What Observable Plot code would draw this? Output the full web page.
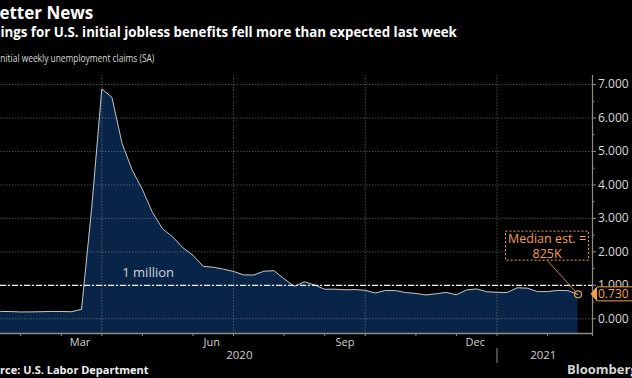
<!DOCTYPE html>
<html><head><meta charset="utf-8">
<script src="https://cdn.jsdelivr.net/npm/d3@7"></script>
<script src="https://cdn.jsdelivr.net/npm/@observablehq/plot@0.6"></script>
<style>
html,body{margin:0;padding:0;background:#000;}
#wrap{position:relative;width:632px;height:378px;overflow:hidden;background:#000;font-family:"Open Sans",sans-serif;}
.txt{position:absolute;white-space:nowrap;line-height:1;}
#title{left:-12px;top:4px;font-size:17px;font-weight:700;color:#fff;}
#subtitle{left:-15px;top:26px;font-size:13.3px;font-weight:700;color:#fff;}
#unit{left:-2px;top:51.5px;font-size:11.2px;color:#d9d9d9;transform:scaleX(0.75);transform-origin:0 0;}
#source{left:-20px;top:364px;font-size:11px;font-weight:700;color:#f0f0f0;}
#brand{left:567px;top:362.5px;font-size:13px;font-weight:700;color:#d4d4d4;}
#chart{position:absolute;left:0;top:70px;}
#chart svg{overflow:visible;}
</style></head><body>
<div id="wrap">
  <div id="title" class="txt">Better News</div>
  <div id="subtitle" class="txt">Filings for U.S. initial jobless benefits fell more than expected last week</div>
  <div id="unit" class="txt">Initial weekly unemployment claims (SA)</div>
  <div id="chart"></div>
  <div id="source" class="txt">Source: U.S. Labor Department</div>
  <div id="brand" class="txt">Bloomberg</div>
</div>
<script>
// Week-ending dates and initial claims (millions, SA)
const weekEnding = [
  "2020-01-04","2020-01-11","2020-01-18","2020-01-25","2020-02-01","2020-02-08","2020-02-15","2020-02-22","2020-02-29",
  "2020-03-07","2020-03-14","2020-03-21","2020-03-28","2020-04-04","2020-04-11","2020-04-18","2020-04-25",
  "2020-05-02","2020-05-09","2020-05-16","2020-05-23","2020-05-30","2020-06-06","2020-06-13","2020-06-20","2020-06-27",
  "2020-07-04","2020-07-11","2020-07-18","2020-07-25","2020-08-01","2020-08-08","2020-08-15","2020-08-22","2020-08-29",
  "2020-09-05","2020-09-12","2020-09-19","2020-09-26","2020-10-03","2020-10-10","2020-10-17","2020-10-24","2020-10-31",
  "2020-11-07","2020-11-14","2020-11-21","2020-11-28","2020-12-05","2020-12-12","2020-12-19","2020-12-26",
  "2021-01-02","2021-01-09","2021-01-16","2021-01-23","2021-01-30","2021-02-06","2021-02-13","2021-02-20"
];
const claims = [
  0.214,0.207,0.220,0.216,0.203,0.205,0.211,0.219,0.217,
  0.211,0.282,3.307,6.867,6.615,5.237,4.442,3.867,
  3.176,2.687,2.446,2.123,1.897,1.566,1.540,1.482,1.413,
  1.310,1.307,1.422,1.435,1.191,0.971,1.104,1.011,0.881,
  0.884,0.866,0.873,0.849,0.770,0.845,0.840,0.782,0.757,
  0.711,0.748,0.787,0.716,0.862,0.892,0.806,0.790,
  0.784,0.926,0.914,0.812,0.812,0.848,0.841,0.730
];
const yTicks = [0,1,2,3,4,5,6,7];
const yMinorTicks = [0.5,1.5,2.5,3.5,4.5,5.5,6.5];
const monthTicks = ["2020-02-01","2020-02-29","2020-03-28","2020-04-25","2020-05-30","2020-06-27","2020-08-01",
  "2020-08-29","2020-09-26","2020-10-31","2020-11-28","2020-12-26","2021-01-30"];
const quarterLines = ["2020-03-28","2020-06-27","2020-09-26","2020-12-26"];
const monthLabelDates = ["2020-03-13","2020-06-12","2020-09-12","2020-12-11"];
const monthLabelText = ["Mar","Jun","Sep","Dec"];
const yearLabelDates = ["2020-07-01","2021-01-27"];
const yearLabelText = ["2020","2021"];
const yearBreak = "2020-12-26";
const thresholdValue = 1;
const thresholdLabel = "1 million";
const thresholdLabelDate = "2020-04-29";
const medianEstimateK = 825;

const data = weekEnding.map((d, i) => ({date: new Date(d), value: claims[i]}));
const last = data[data.length - 1];
const monthLabels = monthLabelDates.map((d, i) => ({date: new Date(d), label: monthLabelText[i]}));
const yearLabels = yearLabelDates.map((d, i) => ({date: new Date(d), label: yearLabelText[i]}));
const threshold = [{date: new Date(thresholdLabelDate), value: thresholdValue, label: thresholdLabel}];
const noteLabel = `Median est. =\n${medianEstimateK}K`;
const estimate = [{date: last.date, value: last.value, label: noteLabel}];
const tagLabel = last.value.toFixed(3);

const xDomain = [new Date("2020-01-18"), new Date("2021-03-02")];
const yDomain = [-0.44, 7.27];
const xEnd = xDomain[1], yMin = yDomain[0];
const orange = "#f2a04a";
const axisColor = "#8c8c8c";
const navy = "#082548";
const grid = {stroke: "#a0a0a0", strokeOpacity: 0.45, strokeDasharray: "1.5,1.5"};

const chart = Plot.plot({
  width: 632, height: 295,
  marginLeft: 0, marginRight: 40, marginTop: 5, marginBottom: 32,
  x: {type: "utc", domain: xDomain, axis: null},
  y: {domain: yDomain, axis: null},
  style: {background: "transparent", fontFamily: "Open Sans", overflow: "visible"},
  marks: [
    Plot.areaY(data, {x: "date", y1: () => yMin, y2: "value", fill: navy, clip: true}),
    Plot.ruleY(yTicks, grid),
    Plot.ruleX(quarterLines.map(d => new Date(d)), grid),
    Plot.lineY(data, {x: "date", y: "value", stroke: "#c4c4c4", strokeWidth: 1, clip: true}),
    Plot.ruleY([thresholdValue], {stroke: "#f0f0f0", strokeWidth: 1.3, strokeDasharray: "6,2,2,2"}),
    Plot.text(threshold, {x: "date", y: "value", text: "label", dy: -12, fill: "#cdd5df", fontSize: 13}),
    Plot.ruleY([yMin], {stroke: axisColor, strokeWidth: 1.5}),
    Plot.ruleX([xEnd], {stroke: axisColor, strokeWidth: 1.2, insetBottom: -3}),
    Plot.ruleX(monthTicks.map(d => new Date(d)), {x: d => d, y1: () => yMin, y2: () => yMin, insetBottom: -3, stroke: axisColor}),
    Plot.ruleX([new Date(yearBreak)], {x: d => d, y1: () => yMin, y2: () => yMin, insetTop: 15, insetBottom: -30, stroke: axisColor}),
    Plot.ruleY(yTicks, {y: d => d, x1: () => xEnd, x2: () => xEnd, insetRight: -4, stroke: axisColor}),
    Plot.ruleY(yMinorTicks, {y: d => d, x1: () => xEnd, x2: () => xEnd, insetRight: -2.5, stroke: axisColor}),
    Plot.text(yTicks, {x: () => xEnd, y: d => d, text: d => d.toFixed(3), textAnchor: "start", dx: 5.5, fill: "#d8d8d8", fontSize: 12}),
    Plot.text(monthLabels, {x: "date", y: () => yMin, text: "label", dy: 9, fill: "#d0d0d0", fontSize: 11}),
    Plot.text(yearLabels, {x: "date", y: () => yMin, text: "label", dy: 22, fill: "#d0d0d0", fontSize: 11.5}),
    Plot.dot([last], {x: "date", y: "value", r: 3.5, stroke: orange, strokeWidth: 1.2, fill: "none"}),
    Plot.text(estimate, {x: "date", y: "value", text: "label", dx: -31, dy: -49, fill: orange, fontSize: 12.5, lineHeight: 1.2}),
    Plot.text([last], {x: () => xEnd, y: "value", text: () => tagLabel, textAnchor: "start", dx: 5.5, fill: orange, fontSize: 12})
  ]
});
document.getElementById("chart").append(chart);

// Decorations derived from rendered text and scales
const svg = d3.select(chart);
const svgRect = chart.getBoundingClientRect();
function relBox(node) {
  const r = node.getBoundingClientRect();
  return {x: r.left - svgRect.left, y: r.top - svgRect.top, w: r.width, h: r.height};
}
const allText = Array.from(chart.querySelectorAll("text"));
const noteNode = allText.find(t => t.textContent.startsWith("Median"));
const tagNode = allText.filter(t => t.textContent === tagLabel).pop();
const xs = chart.scale("x"), ys = chart.scale("y");
const px = xs.apply(last.date), py = ys.apply(last.value);

if (noteNode) {
  const b = relBox(noteNode);
  const padX = 2.5, padY = -1.5;
  const bx = b.x - padX, by = b.y - padY, bw = b.w + 2 * padX, bh = b.h + 2 * padY;
  const g = noteNode.parentNode;
  const rect = document.createElementNS("http://www.w3.org/2000/svg", "rect");
  d3.select(rect).attr("x", bx).attr("y", by).attr("width", bw).attr("height", bh)
    .attr("fill", "#000").attr("stroke", orange).attr("stroke-width", 1).attr("stroke-dasharray", "2,2");
  g.parentNode.insertBefore(rect, g);
  const sx = bx + bw / 2, sy = by + bh;
  const dxl = px - sx, dyl = py - sy, len = Math.hypot(dxl, dyl);
  const line = document.createElementNS("http://www.w3.org/2000/svg", "line");
  d3.select(line).attr("x1", sx).attr("y1", sy)
    .attr("x2", px - dxl / len * 3.5).attr("y2", py - dyl / len * 3.5)
    .attr("stroke", orange).attr("stroke-width", 0.8);
  g.parentNode.insertBefore(line, g);
}
if (tagNode) {
  const b = relBox(tagNode);
  const ax = xs.apply(xEnd) - 1;
  const top = py - 7, bot = py + 7, shoulder = ax + 6;
  const g = tagNode.parentNode;
  const outline = document.createElementNS("http://www.w3.org/2000/svg", "path");
  d3.select(outline)
    .attr("d", `M${ax},${py}L${shoulder},${top}L${b.x + b.w + 20},${top}L${b.x + b.w + 20},${bot}L${shoulder},${bot}Z`)
    .attr("fill", "#000").attr("stroke", orange).attr("stroke-width", 1);
  g.parentNode.insertBefore(outline, g);
  const arrow = document.createElementNS("http://www.w3.org/2000/svg", "path");
  d3.select(arrow).attr("d", `M${ax},${py}L${shoulder},${top}L${shoulder},${bot}Z`).attr("fill", orange);
  g.parentNode.insertBefore(arrow, g);
}
</script>
</body></html>
